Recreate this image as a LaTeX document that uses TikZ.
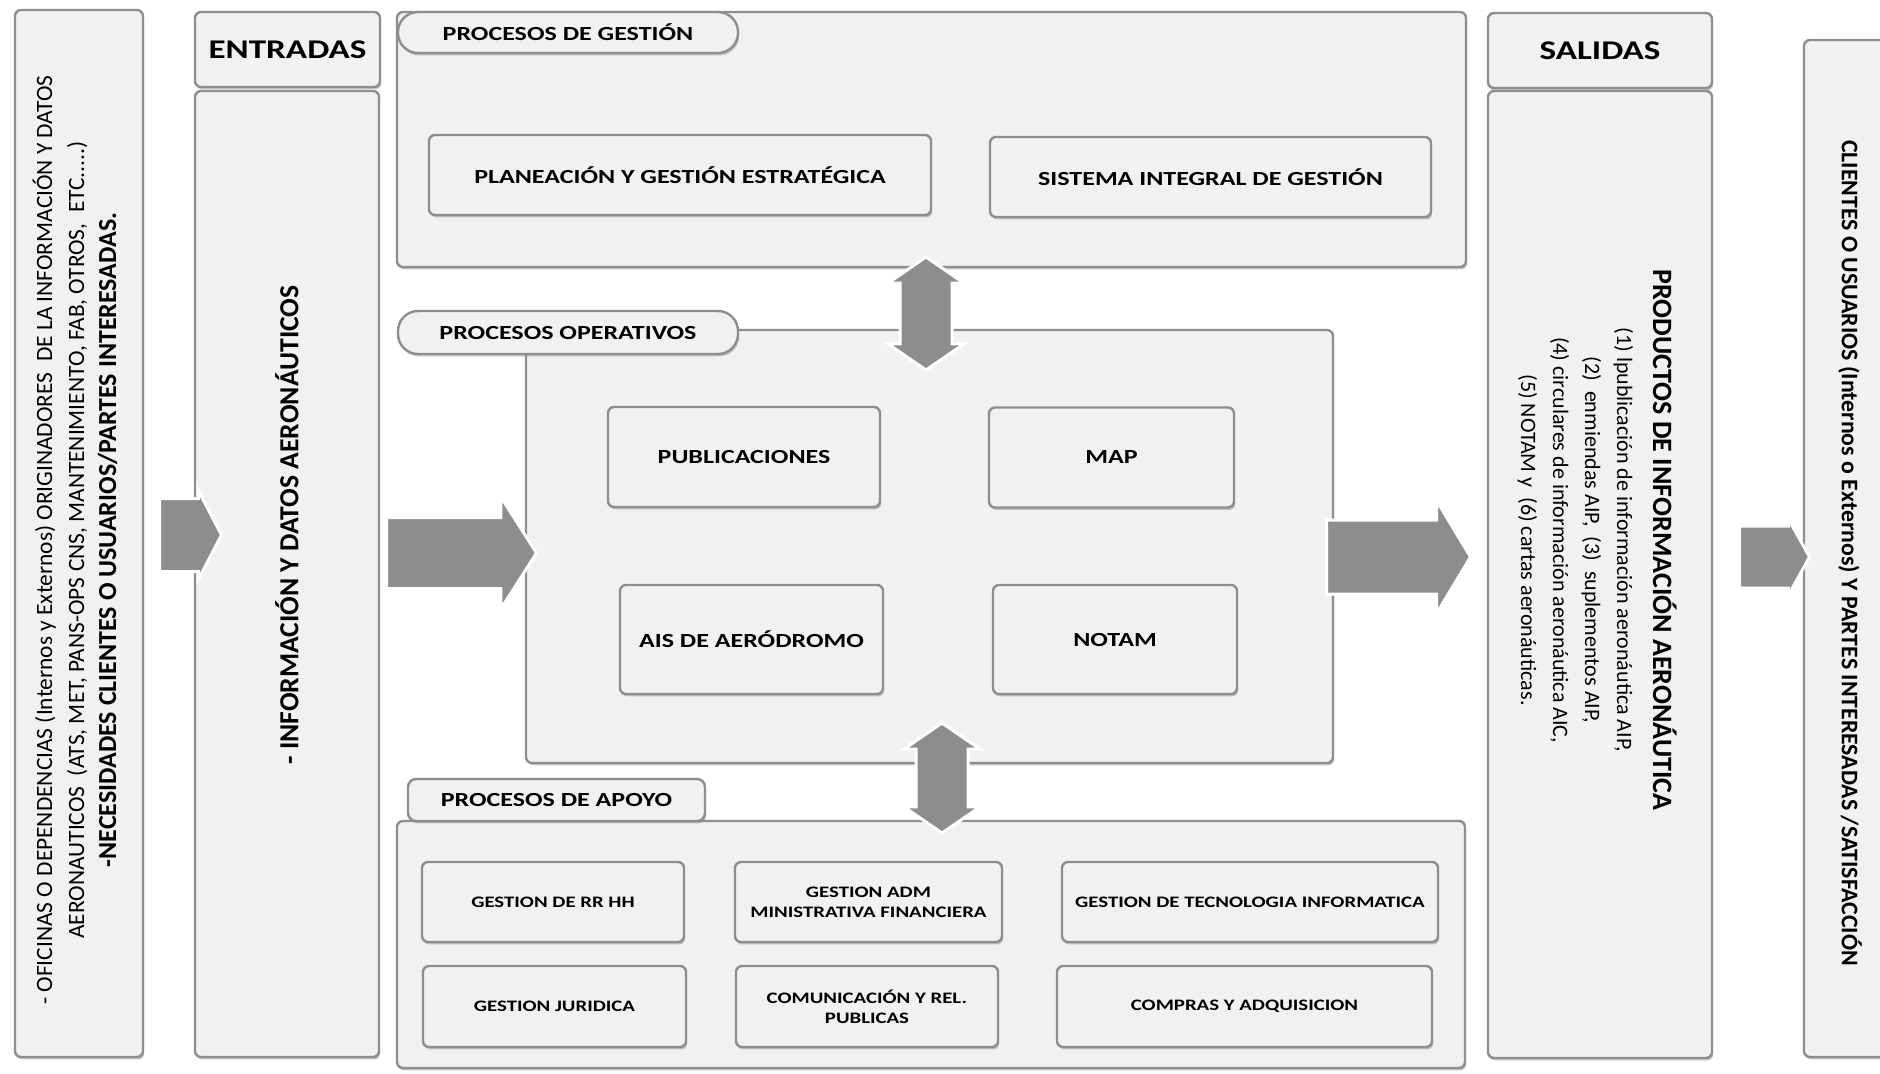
\documentclass[tikz,border=0pt]{standalone}
\usepackage{fontspec}
\setmainfont{Carlito}
\newfontfamily\widefont{Carlito}[FakeStretch=1.3]
\usepackage{xcolor}
\usetikzlibrary{positioning, shapes.arrows, shadows}

\definecolor{panelfill}{HTML}{F1F1F1}
\definecolor{panelline}{HTML}{8E8E8E}
\definecolor{arrowfill}{HTML}{8D8D8D}

\begin{document}
\begin{tikzpicture}[
    x=0.5pt, y=-0.5pt,
    every node/.style={align=center, inner sep=0pt},
    panel/.style={
        draw=panelline,
        line width=1.2pt,
        fill=panelfill,
        rounded corners=3pt,
        drop shadow={shadow xshift=0.6pt, shadow yshift=-1.2pt, opacity=0.45}
    },
    procbox/.style={panel, font=\widefont\fontsize{10}{12}\selectfont\bfseries},
    apoyobox/.style={panel, font=\widefont\fontsize{8}{10}\selectfont\bfseries},
    proctab/.style={panel, rounded corners=10pt, font=\widefont\fontsize{10}{12}\selectfont\bfseries},
    colhead/.style={panel, font=\widefont\fontsize{13.5}{16}\selectfont\bfseries},
    bigarrow/.style={single arrow, anchor=tail, fill=arrowfill, draw=white, line width=1.5pt, inner xsep=0pt},
    twoway/.style={double arrow, rotate=90, fill=arrowfill, draw=white, line width=1.5pt,
        inner xsep=0pt, inner ysep=12.25pt, double arrow head extend=6pt, double arrow tip angle=111}
]

\fill[white] (0,0) rectangle (1880,1073);
\useasboundingbox (0,0) rectangle (1880,1073);

% entradas side
\node[panel, minimum width=64pt, minimum height=523.5pt] (orig) at (79,533.5) {};
\node[rotate=90, font=\fontsize{11.7}{16}\selectfont] (origtxt) at (75,540)
    {- OFICINAS O DEPENDENCIAS (Internos y Externos) ORIGINADORES \ DE LA INFORMACIÓN Y DATOS\\
     AERONAUTICOS \ (ATS, MET, PANS-OPS CNS, MANTENIMIENTO, FAB, OTROS, \ ETC.....)\\
     {\fontsize{13}{16}\selectfont\bfseries -NECESIDADES CLIENTES O USUARIOS/PARTES INTERESADAS.}};

\node[colhead, minimum width=92.5pt, minimum height=37.5pt] (enthead) at (287.5,49.5) {ENTRADAS};
\node[panel, minimum width=92pt, minimum height=483pt] (entbody) at (287,574) {};
\node[rotate=90, font=\fontsize{13.8}{16}\selectfont\bfseries] (enttxt) at (287,525) {- INFORMACIÓN Y DATOS AERONÁUTICOS};

% procesos de gestion
\node[panel, minimum width=534.5pt, minimum height=127.5pt] (gestion) at (931.5,139.5) {};
\node[proctab, minimum width=170pt, minimum height=20.5pt] (gestab) at (568,32.5) {PROCESOS DE GESTIÓN};
\node[procbox, minimum width=251pt, minimum height=40pt] (planea) at (680,175) {PLANEACIÓN Y GESTIÓN ESTRATÉGICA};
\node[procbox, minimum width=220.5pt, minimum height=40pt] (sig) at (1210.5,177) {SISTEMA INTEGRAL DE GESTIÓN};

% procesos operativos
\node[panel, minimum width=403.5pt, minimum height=216.5pt] (oper) at (929.5,546.5) {};
\node[proctab, minimum width=170pt, minimum height=21.5pt] (opertab) at (568,332.5) {PROCESOS OPERATIVOS};
\node[procbox, minimum width=136pt, minimum height=50pt] (pub) at (744,457) {PUBLICACIONES};
\node[procbox, minimum width=122.5pt, minimum height=50pt] (map) at (1111.5,457.5) {MAP};
\node[procbox, minimum width=131.5pt, minimum height=54.5pt] (aisad) at (751.5,639.5) {AIS DE AERÓDROMO};
\node[procbox, minimum width=122pt, minimum height=54.5pt] (notam) at (1115,639.5) {NOTAM};

% procesos de apoyo
\node[panel, minimum width=534pt, minimum height=123.5pt] (apoyo) at (931,944.5) {};
\node[proctab, rounded corners=4pt, minimum width=148.5pt, minimum height=21pt] (apoyotab) at (556.5,800) {PROCESOS DE APOYO};
\node[apoyobox, minimum width=131pt, minimum height=40pt] (rrhh) at (553,902) {GESTION DE RR HH};
\node[apoyobox, minimum width=133.5pt, minimum height=40pt] (adm) at (868.5,902) {GESTION ADM\\MINISTRATIVA FINANCIERA};
\node[apoyobox, minimum width=188pt, minimum height=40pt] (tecno) at (1250,902) {GESTION DE TECNOLOGIA INFORMATICA};
\node[apoyobox, minimum width=131.5pt, minimum height=40.5pt] (jur) at (554.5,1006.5) {GESTION JURIDICA};
\node[apoyobox, minimum width=131pt, minimum height=40.5pt] (comu) at (867,1006.5) {COMUNICACIÓN Y REL.\\PUBLICAS};
\node[apoyobox, minimum width=187.5pt, minimum height=40.5pt] (compras) at (1244.5,1006.5) {COMPRAS Y ADQUISICION};

% salidas side
\node[colhead, minimum width=112pt, minimum height=37.5pt] (salhead) at (1600,50.5) {SALIDAS};
\node[panel, minimum width=112pt, minimum height=483.5pt] (salbody) at (1600,574.5) {};
\node[rotate=-90, font=\fontsize{11}{16}\selectfont] (saltxt) at (1597,540)
    {{\fontsize{14}{16}\selectfont\bfseries PRODUCTOS DE INFORMACIÓN AERONÁUTICA}\\[2pt]
     (1) lpublicación de información aeronáutica AIP,\\
     (2) \ enmiendas AIP, \ (3) \ suplementos AIP,\\
     (4) circulares de información aeronáutica AIC,\\
     (5) NOTAM y \ (6) cartas aeronáuticas.};

\node[panel, minimum width=43pt, minimum height=508.5pt] (client) at (1847,548.5) {};
\node[rotate=-90, font=\fontsize{11.9}{13}\selectfont\bfseries] (clienttxt) at (1850,553)
    {CLIENTES O USUARIOS (Internos o Externos) Y PARTES INTERESADAS /SATISFACCIÓN};

% flow arrows
\node[bigarrow, minimum height=31pt, inner ysep=17.5pt, single arrow head extend=4pt, single arrow tip angle=125] (arrorig) at (158,535) {};
\node[bigarrow, minimum height=75pt, inner ysep=17pt, single arrow head extend=10.25pt, single arrow tip angle=115] (arrent) at (385,553) {};
\node[bigarrow, minimum height=72pt, inner ysep=17.75pt, single arrow head extend=9.75pt, single arrow tip angle=118] (arrsal) at (1325,557) {};
\node[bigarrow, minimum height=35pt, inner ysep=14.75pt, single arrow head extend=3.5pt, single arrow tip angle=122] (arrcli) at (1738,557) {};

\node[twoway, minimum height=56.5pt] (gesoper) at (926,313.5) {};
\node[twoway, minimum height=55pt] (operapo) at (942,778) {};

\end{tikzpicture}
\end{document}
